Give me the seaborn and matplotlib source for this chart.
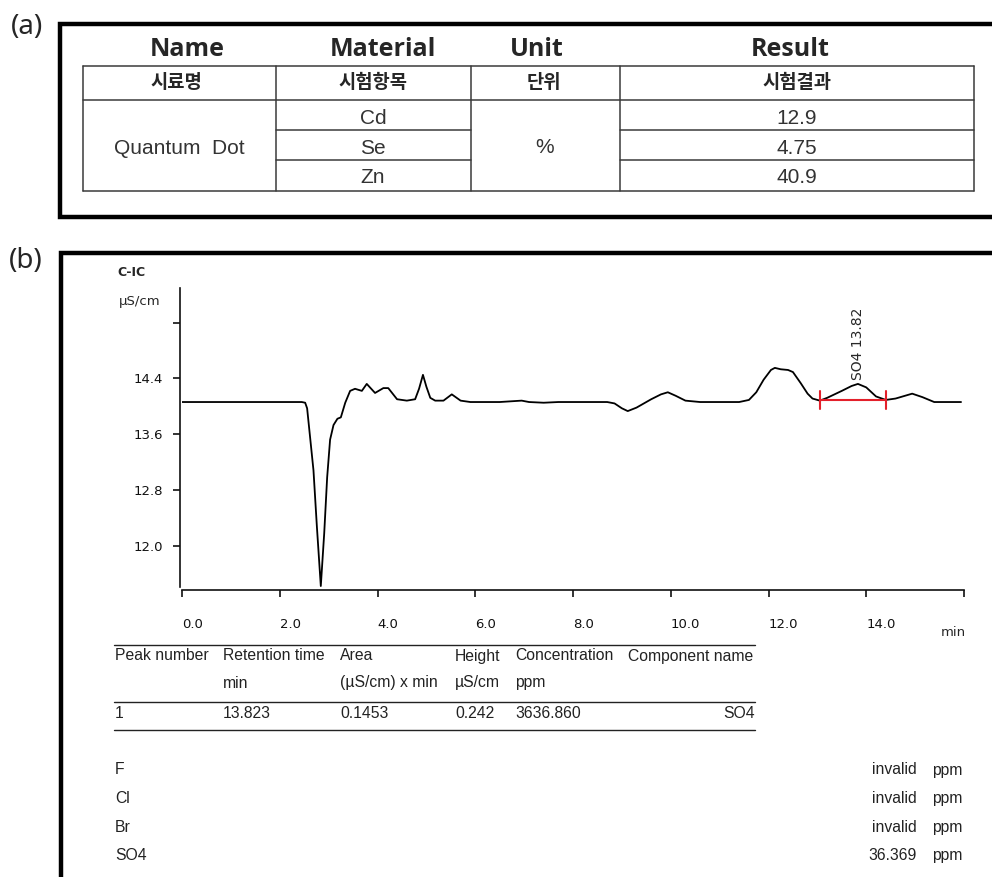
"""
Quantum dot composition table (a) and ion chromatogram report (b)
"""
import numpy as np
import pandas as pd
import matplotlib
matplotlib.use("Agg")
import matplotlib.pyplot as plt
import seaborn as sns

sns.set_style("ticks")
plt.rcParams['font.family'] = ['DejaVu Sans', 'Noto Sans CJK KR']

# ---- data: panel (a) table
header_en = ["Name", "Material", "Unit", "Result"]
header_kr = ["시료명", "시험항목", "단위", "시험결과"]
sample_name = "Quantum  Dot"
elements = ["Cd", "Se", "Zn"]
unit = "%"
results = ["12.9", "4.75", "40.9"]

# ---- data: chromatogram trace (min, uS/cm)
time_min = [0.0, 2.45, 2.52, 2.56, 2.62, 2.69, 2.76, 2.84, 2.91, 2.97, 3.03,
            3.10, 3.18, 3.25, 3.34, 3.44, 3.54, 3.68, 3.78, 3.95, 4.12, 4.22,
            4.40, 4.60, 4.77, 4.85, 4.93, 5.00, 5.08, 5.18, 5.35, 5.52, 5.70,
            5.90, 6.50, 6.95, 7.10, 7.40, 7.70, 8.70, 8.85, 9.00, 9.12, 9.30,
            9.60, 9.80, 9.94, 10.10, 10.30, 10.60, 11.40, 11.60, 11.75, 11.90,
            12.05, 12.13, 12.25, 12.40, 12.50, 12.66, 12.80, 12.90, 13.05,
            13.20, 13.50, 13.70, 13.83, 14.00, 14.20, 14.40, 14.60, 14.94,
            15.15, 15.39, 15.94]
signal = [14.06, 14.06, 14.05, 13.97, 13.56, 13.08, 12.27, 11.42, 12.18, 12.98,
          13.52, 13.73, 13.82, 13.84, 14.05, 14.22, 14.25, 14.22, 14.32, 14.19,
          14.26, 14.26, 14.10, 14.08, 14.10, 14.25, 14.45, 14.28, 14.12, 14.08,
          14.08, 14.17, 14.08, 14.06, 14.06, 14.08, 14.06, 14.05, 14.06, 14.06,
          14.04, 13.97, 13.93, 13.98, 14.10, 14.17, 14.20, 14.15, 14.08, 14.06,
          14.06, 14.09, 14.20, 14.38, 14.52, 14.55, 14.53, 14.52, 14.49, 14.33,
          14.18, 14.11, 14.08, 14.12, 14.22, 14.29, 14.32, 14.27, 14.14, 14.09,
          14.11, 14.18, 14.13, 14.06, 14.06]
peak_label = "SO4 13.82"
peak_time = 13.83
peak_start, peak_end, peak_base = 13.05, 14.40, 14.09

x_ticks = [0, 2, 4, 6, 8, 10, 12, 14, 16]
x_tick_labels = ["0.0", "2.0", "4.0", "6.0", "8.0", "10.0", "12.0", "14.0", ""]
y_ticks = [12.0, 12.8, 13.6, 14.4, 15.2]
y_tick_labels = ["12.0", "12.8", "13.6", "14.4", ""]

# ---- data: peak table and ion summary
peak_cols = ["Peak number", "Retention time", "Area", "Height",
             "Concentration", "Component name"]
peak_units = ["", "min", "(µS/cm) x min", "µS/cm", "ppm", ""]
peak_row = ["1", "13.823", "0.1453", "0.242", "3636.860", "SO4"]
ions = ["F", "Cl", "Br", "SO4"]
ion_values = ["invalid", "invalid", "invalid", "36.369"]

W, H = 992, 877
fig = plt.figure(figsize=(W / 100, H / 100), dpi=100)

# background axes in pixel coordinates for frames, tables and texts
bg = fig.add_axes([0, 0, 1, 1])
bg.set_xlim(0, W)
bg.set_ylim(H, 0)
bg.axis("off")

# panel frames (right/bottom sides run off the image)
bg.plot([1000, 60, 60, 1000], [24, 24, 216.5, 216.5], color="black", lw=3.2,
        solid_joinstyle="miter", clip_on=False)
bg.plot([1000, 61, 61], [253, 253, 900], color="black", lw=3.2,
        solid_joinstyle="miter", clip_on=False)
bg.text(27, 27, "(a)", fontsize=20, family=["Noto Sans"], ha="center", va="center")
bg.text(26, 261, "(b)", fontsize=20, family=["Noto Sans"], ha="center", va="center")

# ---- panel (a) table grid
col_x = [83, 276, 471, 620, 974]
grid_kw = dict(color="#3a3a3a", lw=1.1)
for y in (66, 100, 191):
    bg.plot([83, 974], [y, y], **grid_kw)
for y in (130, 160):
    bg.plot([276, 471], [y, y], **grid_kw)
    bg.plot([620, 974], [y, y], **grid_kw)
for x in col_x:
    bg.plot([x, x], [66, 191], **grid_kw)

en_x = [187, 383, 537, 790]
kr_x = [176, 373, 544, 797]
for txt, x in zip(header_en, en_x):
    bg.text(x, 56, txt, fontsize=18, fontweight="bold", family=["Open Sans"],
            ha="center", va="baseline")
for txt, x in zip(header_kr, kr_x):
    bg.text(x, 83, txt, fontsize=13.5, fontweight="bold",
            family=["Noto Sans CJK KR"], ha="center", va="center")

body_kw = dict(fontsize=15, family=["Liberation Sans"], color="#333333",
               ha="center", va="baseline")
bg.text(179, 154, sample_name, **body_kw)
bg.text(545, 153, unit, **body_kw)
for i, (el, res) in enumerate(zip(elements, results)):
    base = [124, 154, 183][i]
    bg.text(373, base, el, **body_kw)
    bg.text(797, base, res, **body_kw)

# ---- panel (b) chromatogram
ax_l, ax_r, ax_t, ax_b = 182, 964, 288, 590
ax = fig.add_axes([ax_l / W, 1 - ax_b / H, (ax_r - ax_l) / W, (ax_b - ax_t) / H])
trace = pd.DataFrame({"time": time_min, "signal": signal})
sns.lineplot(data=trace, x="time", y="signal", ax=ax, color="black", lw=1.3)
ax.plot([peak_start, peak_end], [peak_base, peak_base], color="#e3202b", lw=1.5)
for px in (peak_start, peak_end):
    ax.plot([px, px], [peak_base - 0.13, peak_base + 0.13], color="#e3202b", lw=1.5)
ax.text(peak_time, 14.37, peak_label, rotation=90, ha="center", va="bottom",
        fontsize=10)

ax.set_xlim(0, 16)
ax.set_ylim(11.363, 15.696)
ax.set_xticks(x_ticks)
ax.set_xticklabels(x_tick_labels)
ax.set_yticks(y_ticks)
ax.set_yticklabels(y_tick_labels)
for lbl in ax.get_xticklabels():
    lbl.set_ha("left")
ax.set_xlabel("")
ax.set_ylabel("")
ax.patch.set_alpha(0)
for side in ("top", "right"):
    ax.spines[side].set_visible(False)
for side in ("left", "bottom"):
    ax.spines[side].set_linewidth(1.2)
    ax.spines[side].set_color("#111111")
ax.spines["left"].set_position(("outward", 1.5))
ax.spines["left"].set_bounds(11.41, 15.696)
ax.tick_params(axis="both", direction="out", length=5, width=1.2,
               colors="#111111", labelsize=9.5, bottom=True, left=True)
ax.tick_params(axis="x", pad=15)
ax.tick_params(axis="y", pad=7)

bg.text(131, 273, "C-IC", fontsize=9, fontweight="bold", ha="center", va="center")
bg.text(140, 301, "µS/cm", fontsize=9.5, ha="center", va="center")
bg.text(953, 633, "min", fontsize=9.5, ha="center", va="center")

# ---- peak table
tab_kw = dict(fontsize=11.3, family=["Liberation Sans"], color="#222222", va="center")
for y in (645, 702, 730):
    bg.plot([114, 755], [y, y], color="#222222", lw=1.0)
col_left = [115, 223, 340, 455, 515, 628]
for txt, unit_txt, x in zip(peak_cols, peak_units, col_left):
    bg.text(x, 656, txt, ha="left", **tab_kw)
    if unit_txt:
        bg.text(x, 683, unit_txt, ha="left", **tab_kw)
for val, x in zip(peak_row[:-1], col_left[:-1]):
    bg.text(x, 713, val, ha="left", **tab_kw)
bg.text(755, 713, peak_row[-1], ha="right", **tab_kw)

# ---- ion summary
for i, (ion, val) in enumerate(zip(ions, ion_values)):
    y = 770 + i * 28.6
    bg.text(115, y, ion, ha="left", **tab_kw)
    bg.text(917, y, val, ha="right", **tab_kw)
    bg.text(932, y, "ppm", ha="left", **tab_kw)

fig.savefig("out.png", dpi=100)
